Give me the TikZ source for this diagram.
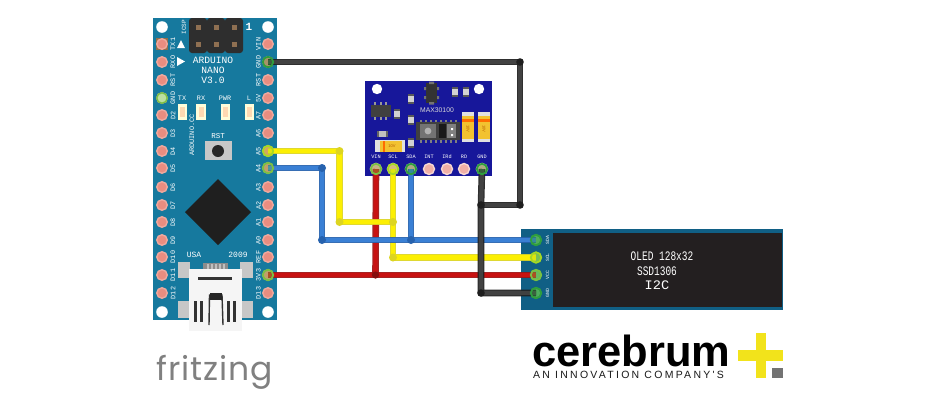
\documentclass[tikz,border=0pt]{standalone}
\usepackage{fontspec}
\setmainfont{Liberation Sans}
\newfontfamily\monof{Liberation Mono}
\newfontfamily\spacedf[LetterSpace=21.5]{Liberation Sans}
\newfontfamily\fritzf[LetterSpace=3]{Poppins}
\newcommand{\fsz}[1]{\fontsize{#1}{#1}\selectfont}
\definecolor{nano}{HTML}{16799E}
\definecolor{maxb}{HTML}{17179A}
\definecolor{oledb}{HTML}{105F85}
\definecolor{screenc}{HTML}{231F20}
\definecolor{padc}{HTML}{E98D80}
\definecolor{padr}{HTML}{EFA99E}
\definecolor{ringg}{HTML}{7BC043}
\definecolor{ringd}{HTML}{2E9E3E}
\definecolor{ringl}{HTML}{A6D824}
\definecolor{yo}{HTML}{DDD521}\definecolor{yi}{HTML}{FFF200}
\definecolor{bo}{HTML}{2662AE}\definecolor{bi}{HTML}{3B82D8}
\definecolor{ro}{HTML}{9E1111}\definecolor{ri}{HTML}{CC1111}
\definecolor{ko}{HTML}{1E1E1E}\definecolor{ki}{HTML}{444444}
\definecolor{tant}{HTML}{F2C230}
\definecolor{logoy}{HTML}{F2E31B}
\tikzset{
 padn/.style={circle,fill=padc,draw=padr,line width=1.4pt,minimum size=10.5pt,inner sep=0pt},
 lab/.style={text=white,inner sep=0pt,font=\monof\fsz{6.8}},
 labs/.style={text=white,inner sep=0pt,font=\monof\fsz{5.2}},
 labr/.style={lab,rotate=90},
 glow/.style={circle,draw=#1,fill=#1,fill opacity=.35,line width=1.8pt,minimum size=10.5pt,inner sep=0pt},
}
\newcommand{\wire}[3]{%
 \draw[#1,line width=6.6pt,line join=round,opacity=.92] #3;
 \draw[#2,line width=4.2pt,line join=round,opacity=.92] #3;}
\newcommand{\chipr}[2]{%
 \fill[gray!70!black] (#1-3.2,#2-5.2) rectangle (#1+3.2,#2+5.2);
 \fill[gray!35] (#1-3.2,#2-2.6) rectangle (#1+3.2,#2+2.6);}
\begin{document}
\begin{tikzpicture}[x=1pt,y=-1pt]
\useasboundingbox (0,0) rectangle (940,400);
\fill[white] (0,0) rectangle (940,400);

% ---------- Arduino Nano
\fill[nano] (153,18) rectangle (277,320);
\foreach \x/\y in {162/27,268/27,162/312,268/312} \fill[white] (\x,\y) circle (5.8);
% ICSP
\foreach \x in {198,216,234} {
 \fill[black!82,rounded corners=3pt] (\x-9,18) rectangle (\x+9,53);
 \foreach \y in {27,44} \fill[black!20!brown!60!gray] (\x-2.5,\y-2.5) rectangle (\x+2.5,\y+2.5);
}
\node[lab,font=\monof\bfseries\fsz{11}] (one) at (249,27) {1};
\node[labr,font=\monof\fsz{6}] (icsp) at (184,27) {ICSP};
\fill[white] (181,40) -- (185,48) -- (177,48) -- cycle;
\fill[white] (177,57) -- (185,61.5) -- (177,66) -- cycle;
\node[lab,font=\monof\fsz{9.6}] (t1) at (213,60) {ARDUINO};
\node[lab,font=\monof\fsz{9.6}] (t2) at (213,70) {NANO};
\node[lab,font=\monof\fsz{9.6}] (t3) at (213,80) {V3.0};
\foreach \n/\x in {TX/182,RX/201,PWR/225,L/249} \node[lab] (led\n) at (\x,98) {\n};
\foreach \x in {182.5,201,225.5,249.5} {
 \fill[white!85!yellow] (\x-4.7,104) rectangle (\x+4.7,120);
 \fill[white!70!orange] (\x-2.5,107) rectangle (\x+2.5,117);
}
\node[labr] (cc) at (192,135) {ARDUINO.CC};
\node[lab,font=\monof\fsz{7.5}] (rstl) at (218,136) {RST};
\fill[black!22] (205,141) rectangle (232,160);
\fill[black!85] (218,151) circle (6);
\fill[black!88] (218,179) -- (251,212) -- (218,245) -- (185,212) -- cycle;
\node[lab,font=\monof\fsz{8}] (usa) at (194,255) {USA};
\node[lab,font=\monof\fsz{8}] (yr) at (238,255) {2009};
% USB
\foreach \a/\b/\c/\d in {178/262/190/278,240/262/253/278,178/301/190/318,241/301/253/318}
 \fill[black!22] (\a,\b) rectangle (\c,\d);
\fill[black!45] (203,263) rectangle (228,270);
\foreach \x in {207,211,215,219,223} \fill[black!25] (\x,263.5) rectangle (\x+2,268.5);
\fill[black!4] (189,268.5) rectangle (242,331);
\fill[black!80] (198,277) rectangle (232,280);
\draw[black!80,line width=1.4pt] (209,325) -- (209.5,295) -- (222,295) -- (223,325);
\fill[black!85] (209.5,293) rectangle (222,300);
\foreach \x in {195.5,201.5,228.5,234.5} \fill[black!80] (\x-1.5,301) rectangle (\x+1.5,322);
% pin labels
\foreach \n/\y in {TX1/44,RXO/62,RST/80,GND/98,D2/115,D3/133,D4/151,D5/168,D6/187,D7/205,D8/222,D9/240,D10/257,D11/275,D12/293}
 \node[labr] (ll\n) at (173,\y) {\n};
\foreach \n/\y in {VIN/44,GND/62,RST/80,5V/98,A7/115,A6/133,A5/151,A4/168,A3/187,A2/205,A1/222,A0/240,REF/257,3V3/275,D13/293}
 \node[labr] (rl\n) at (258.5,\y) {\n};
% pads
\fill[black!20!brown!70!gray] (156,38) rectangle (168,50);
\foreach \i/\y in {1/44,2/62,3/80,4/98,5/115,6/133,7/151,8/168,9/187,10/205,11/222,12/240,13/257,14/275,15/293} {
 \node[padn] (L\i) at (162,\y) {};
 \node[padn] (R\i) at (268,\y) {};
}
\node[padn,fill=ringg!50!white,draw=ringg] (L4x) at (L4) {};

% ---------- MAX30100
\fill[maxb] (365,81) rectangle (492,175.5);
\foreach \x in {377,479} \fill[white] (\x,89) circle (5.2);
\fill[black!80] (426,83) rectangle (437,103);
\fill[black!55] (429,81.5) rectangle (434,84) (429,102) rectangle (434,104.5);
\fill[black!55] (424,87) rectangle (426,90) (437,87) rectangle (439,90) (437,96) rectangle (439,99) (424,96) rectangle (426,99);
\chipr{455}{92}\chipr{466}{92}\chipr{411}{99}\chipr{411}{120}\chipr{411}{143}\chipr{397}{114}
\fill[black!75] (371,105) rectangle (391,117);
\foreach \x in {375,381,386} {\fill[black!40] (\x-1.2,102) rectangle (\x+1.2,105);\fill[black!40] (\x-1.2,117) rectangle (\x+1.2,120);}
\fill[black!60] (377,131) rectangle (388,137);
\fill[black!25] (379,131) rectangle (386,137);
\node[inner sep=0pt,text=black!15,font=\fsz{6.8}] (mname) at (437,110) {MAX30100};
\foreach \x in {421,426,431,436,441,446,451,456} {\fill[black!50] (\x-1.3,120) rectangle (\x+1.3,123);\fill[black!50] (\x-1.3,140) rectangle (\x+1.3,143);}
\fill[black!75] (416,122) rectangle (460,140);
\fill[black!55] (420,124) rectangle (436,138);
\fill[black!30] (428,131) circle (3.4);
\fill[black!90] (439,124) rectangle (446,138);
\fill[black!50] (447,124) rectangle (456,138);
\fill[white!70] (451,128) rectangle (453,130) (451,134) rectangle (453,136);
\foreach \x in {468,484} {
 \fill[black!12] (\x-6,112) rectangle (\x+6,142);
 \fill[tant] (\x-5.7,116) rectangle (\x+5.7,139);
 \fill[orange!85!red] (\x-5.7,119) rectangle (\x+5.7,122);
 \node[inner sep=0pt,text=orange!70!black,rotate=-90,font=\fsz{4}] at (\x,129) {10V};
}
\fill[black!12] (375,140) rectangle (405,152);
\fill[tant] (380,140.5) rectangle (402,151.5);
\fill[orange!85!red] (382.5,140.5) rectangle (385,151.5);
\node[inner sep=0pt,text=orange!70!black,font=\fsz{4}] at (392,146) {10V};
\foreach \n/\x in {VIN/376,SCL/393,SDA/411,INT/429,IRd/447,RD/464,GND/482}
 \node[labs] (ml\n) at (\x,157) {\n};
\foreach \n/\x in {VIN/376,SCL/393,SDA/411,INT/429,IRd/447,RD/464,GND/482}
 \node[padn,minimum size=11pt,fill=padc!70!white,draw=white!65!padc] (M\n) at (\x,169) {};

% ---------- OLED
\fill[oledb] (521,229) rectangle (783,310);
\fill[screenc] (553,233) rectangle (782,307);
\foreach \n/\y in {SDA/240,SCL/257.5,VCC/275,GND/293} {
 \node[padn,fill=ringd!75!white,draw=ringd] (O\n) at (536,\y) {};
 \node[labs,rotate=90,font=\monof\fsz{4.8}] (ol\n) at (547.5,\y) {\n};
}
\node[inner sep=0pt,text=white] (ot1) at (662,256) {\monof\fsz{13}\scalebox{.73}[1]{OLED 128x32}};
\node[inner sep=0pt,text=white] (ot2) at (657,271) {\monof\fsz{13}\scalebox{.73}[1]{SSD1306}};
\node[inner sep=0pt,text=white] (ot3) at (657,285.5) {\monof\fsz{13}\scalebox{1.05}[1]{I2C}};

% ---------- bends
\coordinate (k1) at (520,62);\coordinate (k2) at (520,205);\coordinate (k3) at (481,205);\coordinate (k4) at (481,293);
\coordinate (y1) at (339.5,151);\coordinate (y2) at (339.5,222);\coordinate (y3) at (393,222);\coordinate (y4) at (393,257.5);
\coordinate (b1) at (322,168);\coordinate (b2) at (322,240);\coordinate (b3) at (411,240);
\coordinate (r1) at (375.5,275);

% ---------- wires
\wire{ro}{ri}{(R14.center) -- (OVCC.center)}
\wire{ro}{ri}{(MVIN.center) -- (r1)}
\fill[ro!85!black] (r1) circle (3.6);
\wire{yo}{yi}{(R7.center) -- (y1) -- (y2) -- (y3)}
\wire{yo}{yi}{(MSCL.center) -- (y3) -- (y4) -- (OSCL.center)}
\foreach \c in {y1,y2,y3,y4} \fill[yo] (\c) circle (4);
\wire{bo}{bi}{(R8.center) -- (b1) -- (b2) -- (OSDA.center)}
\wire{bo}{bi}{(MSDA.center) -- (b3)}
\foreach \c in {b1,b2,b3} \fill[bo] (\c) circle (4);
\wire{ko}{ki}{(R2.center) -- (k1) -- (k2) -- (k3)}
\wire{ko}{ki}{(MGND.center) -- (k3) -- (k4) -- (OGND.center)}
\foreach \c in {k1,k2,k3,k4} \fill[ko] (\c) circle (3.8);
% connected pins glow
\foreach \p/\c in {R2/ringd,R7/ringl,R8/ringg,R14/ringg,MVIN/ringg,MSCL/ringl,MSDA/ringd,MGND/ringd,OSDA/ringd,OSCL/ringl,OVCC/ringg,OGND/ringd}
 \node[glow=\c] at (\p) {};

% ---------- logos
\node[anchor=base west,inner sep=0pt,text=black!50] (fr) at (156,380) {\fritzf\fsz{33}fritzing};
\node[anchor=base west,inner sep=0pt,text=black,text depth=0pt] (ce) at (532,366) {\bfseries\fsz{43.5}cerebrum};
\node[anchor=base west,inner sep=0pt,text=black!90,text height=7.5pt,text depth=0pt] (inn) at (533,378.5) {\spacedf\fsz{10.5}AN INNOVATION COMPANY'S};
\fill[logoy] (756,333) rectangle (766,378);
\fill[logoy] (738,350) rectangle (783,361);
\fill[black!55] (772,368) rectangle (783,378);
\end{tikzpicture}
\end{document}
